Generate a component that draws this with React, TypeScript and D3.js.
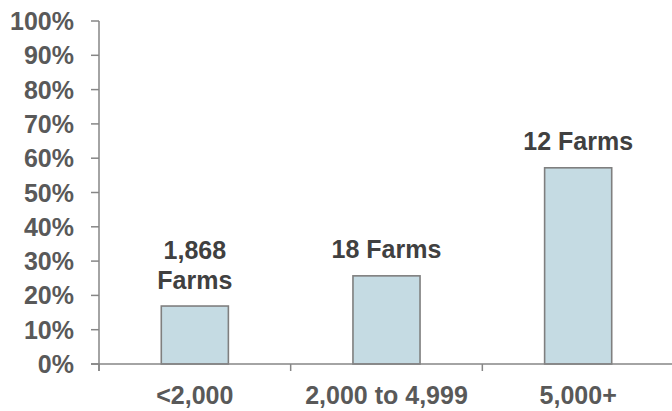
import * as d3 from 'd3'

const categories = ['<2,000', '2,000 to 4,999', '5,000+']
const shares = [0.169, 0.257, 0.572]
const barLabels = [['1,868', 'Farms'], ['18 Farms'], ['12 Farms']]

const W = 672
const H = 411
const margin = { top: 21, right: -2, bottom: 47, left: 99 }
const FONT = '"Liberation Sans", Arial, sans-serif'

export default function App() {
  const innerW = W - margin.left - margin.right
  const innerH = H - margin.top - margin.bottom

  const x = d3.scaleBand<string>().domain(categories).range([0, innerW]).padding(0)
  const y = d3.scaleLinear().domain([0, 1]).range([innerH, 0])
  const barW = x.bandwidth() * 0.35
  const pct = d3.format('.0%')
  const yTicks = y.ticks(10)
  const xTicks = d3.range(categories.length + 1).map((i) => i * x.step())

  return (
    <svg
      width={W}
      height={H}
      style={{ position: 'absolute', left: 0, top: 0, background: '#fff' }}
      fontFamily={FONT}
      fontWeight="bold"
    >
      <g transform={`translate(${margin.left},${margin.top})`}>
        {categories.map((c, i) => {
          const cx = (x(c) ?? 0) + x.bandwidth() / 2
          const top = y(shares[i])
          const lines = barLabels[i]
          return (
            <g key={c}>
              <rect
                x={cx - barW / 2}
                y={top}
                width={barW}
                height={innerH - top}
                fill="#c5dbe3"
                stroke="#7f7f7f"
                strokeWidth={1.6}
              />
              {lines.map((t, j) => (
                <text
                  key={t}
                  x={cx}
                  y={top - 17.5 - (lines.length - 1 - j) * 30}
                  textAnchor="middle"
                  fontSize={25}
                  fill="#404040"
                >
                  {t}
                </text>
              ))}
              <text x={cx} y={innerH + 40} textAnchor="middle" fontSize={25} fill="#595959">
                {c}
              </text>
            </g>
          )
        })}

        {/* y axis */}
        <line x1={0} x2={0} y1={y(1)} y2={innerH + 7} stroke="#868686" strokeWidth={1.5} />
        {yTicks.map((t) => (
          <g key={t} transform={`translate(0,${y(t)})`}>
            <line x1={-8} x2={0} stroke="#868686" strokeWidth={1.5} />
            <text x={-25} dy="0.36em" textAnchor="end" fontSize={25} fill="#595959">
              {pct(t)}
            </text>
          </g>
        ))}

        {/* x axis */}
        <line x1={-8} x2={innerW} y1={innerH} y2={innerH} stroke="#868686" strokeWidth={1.5} />
        {xTicks.map((tx) => (
          <line key={tx} x1={tx} x2={tx} y1={innerH} y2={innerH + 7} stroke="#868686" strokeWidth={1.5} />
        ))}
      </g>
    </svg>
  )
}
